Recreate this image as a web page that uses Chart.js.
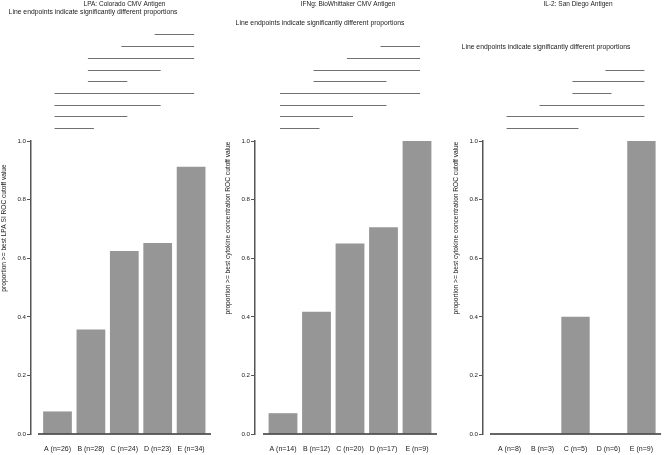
<!DOCTYPE html>
<html>
<head>
<meta charset="utf-8">
<script src="https://cdn.jsdelivr.net/npm/chart.js@4.4.1/dist/chart.umd.min.js"></script>
<style>
  body { margin: 0; background: #fff; }
  .panel { position: absolute; top: 0; height: 455px; }
</style>
</head>
<body>
<div class="panel" style="left:0px;width:220px"><canvas id="c1" width="220" height="455"></canvas></div>
<div class="panel" style="left:220px;width:220px"><canvas id="c2" width="220" height="455"></canvas></div>
<div class="panel" style="left:440px;width:224px"><canvas id="c3" width="224" height="455"></canvas></div>
<script>
// Panel 1: LPA
const lpaTitle = "LPA: Colorado CMV Antigen";
const lpaAxisTitle = "proportion >= best LPA SI ROC cutoff value";
const lpaGroups = ["A (n=26)", "B (n=28)", "C (n=24)", "D (n=23)", "E (n=34)"];
const lpaValues = [0.077, 0.357, 0.625, 0.652, 0.912];
// significant pairs, top row first
const lpaPairs = [[3, 4], [2, 4], [1, 4], [1, 3], [1, 2], [0, 4], [0, 3], [0, 2], [0, 1]];

// Panel 2: IFNg
const ifnTitle = "IFNg: BioWhittaker CMV Antigen";
const ifnAxisTitle = "proportion >= best cytokine concentration ROC cutoff value";
const ifnGroups = ["A (n=14)", "B (n=12)", "C (n=20)", "D (n=17)", "E (n=9)"];
const ifnValues = [0.071, 0.417, 0.65, 0.706, 1.0];
const ifnPairs = [[3, 4], [2, 4], [1, 4], [1, 3], [0, 4], [0, 3], [0, 2], [0, 1]];

// Panel 3: IL-2
const il2Title = "IL-2: San Diego Antigen";
const il2AxisTitle = "proportion >= best cytokine concentration ROC cutoff value";
const il2Groups = ["A (n=8)", "B (n=3)", "C (n=5)", "D (n=6)", "E (n=9)"];
const il2Values = [0, 0, 0.4, 0, 1.0];
const il2Pairs = [[3, 4], [2, 4], [2, 3], [1, 4], [0, 4], [0, 2]];

const yTicks = [0, 0.2, 0.4, 0.6, 0.8, 1.0];
const subTitle = "Line endpoints indicate significantly different proportions";

const font = "Liberation Sans, Arial, Helvetica, sans-serif";

// pixel layout of each panel (local canvas coords)
const panels = [
    { id: "c1", width: 220, title: lpaTitle, axisTitle: lpaAxisTitle, groups: lpaGroups, values: lpaValues, pairs: lpaPairs,
      axisX: 31, c0: 57.5, sp: 33.4, right: 211, baseStart: 38, titleX: 124.5, subX: 93 },
    { id: "c2", width: 220, title: ifnTitle, axisTitle: ifnAxisTitle, groups: ifnGroups, values: ifnValues, pairs: ifnPairs,
      axisX: 35, c0: 63, sp: 33.5, right: 217, baseStart: 43, titleX: 128, subX: 100 },
    { id: "c3", width: 224, title: il2Title, axisTitle: il2AxisTitle, groups: il2Groups, values: il2Values, pairs: il2Pairs,
      axisX: 43, c0: 70, sp: 33.5, right: 224, baseStart: 50, titleX: 138, subX: 106 }
];

const rowBottom = 128;
const rowStep = 11.7;

const decorPlugin = {
    id: 'decor',
    afterDraw(chart, args, opts) {
        const p = opts.panel;
        const ctx = chart.ctx;
        const x = chart.scales.x;
        const y = chart.scales.y;
        ctx.save();

        // baseline
        ctx.strokeStyle = '#333';
        ctx.lineWidth = 1.5;
        ctx.beginPath();
        ctx.moveTo(p.baseStart, y.getPixelForValue(0));
        ctx.lineTo(chart.chartArea.right, y.getPixelForValue(0));
        ctx.stroke();

        // significance lines
        const n = p.pairs.length;
        ctx.strokeStyle = '#707070';
        ctx.lineWidth = 1;
        p.pairs.forEach((pr, k) => {
            const yy = Math.round(rowBottom - (n - 1 - k) * rowStep) + 0.5;
            ctx.beginPath();
            ctx.moveTo(x.getPixelForValue(pr[0]) - 3, yy);
            ctx.lineTo(x.getPixelForValue(pr[1]) + 3, yy);
            ctx.stroke();
        });
        const topRow = rowBottom - (n - 1) * rowStep;

        // titles
        ctx.fillStyle = '#222';
        ctx.textAlign = 'center';
        ctx.textBaseline = 'middle';
        ctx.font = '6.5px ' + font;
        ctx.fillText(p.title, p.titleX, 4.5);
        ctx.font = '6.8px ' + font;
        ctx.fillText(subTitle, p.subX, topRow - 22.5);

        // y axis title
        ctx.font = '6.6px ' + font;
        ctx.translate(p.axisX - 26.5, 228);
        ctx.rotate(-Math.PI / 2);
        ctx.fillText(p.axisTitle, 0, 0);
        ctx.restore();
    }
};

panels.forEach(p => {
    new Chart(document.getElementById(p.id), {
        type: 'bar',
        data: {
            datasets: [{
                data: p.values.map((v, i) => ({ x: i, y: v })),
                backgroundColor: '#969696',
                borderWidth: 0,
                barPercentage: 0.86,
                categoryPercentage: 1
            }]
        },
        options: {
            responsive: false,
            animation: false,
            layout: { padding: { top: 141, right: p.width - p.right, bottom: 0, left: 0 } },
            plugins: {
                legend: { display: false },
                tooltip: { enabled: false },
                decor: { panel: p }
            },
            scales: {
                x: {
                    type: 'linear',
                    offset: false,
                    min: -(p.c0 - p.axisX) / p.sp,
                    max: (p.right - p.c0) / p.sp,
                    afterBuildTicks: s => { s.ticks = p.groups.map((g, i) => ({ value: i })); },
                    afterFit: s => { s.height = 21; },
                    grid: { display: false, drawTicks: false },
                    border: { display: false },
                    ticks: {
                        autoSkip: false,
                        maxRotation: 0,
                        padding: 11,
                        color: '#222',
                        font: { family: font, size: 7 },
                        callback: v => p.groups[v]
                    }
                },
                y: {
                    min: 0,
                    max: 1,
                    afterBuildTicks: s => { s.ticks = yTicks.map(v => ({ value: v })); },
                    afterFit: s => { s.width = p.axisX; },
                    border: { display: true, color: '#555', width: 1.5 },
                    grid: { drawOnChartArea: false, tickLength: 4, color: '#555', lineWidth: 1 },
                    ticks: {
                        padding: 1,
                        color: '#222',
                        font: { family: font, size: 6.2 },
                        callback: v => v.toFixed(1)
                    }
                }
            }
        },
        plugins: [decorPlugin]
    });
});
</script>
</body>
</html>
